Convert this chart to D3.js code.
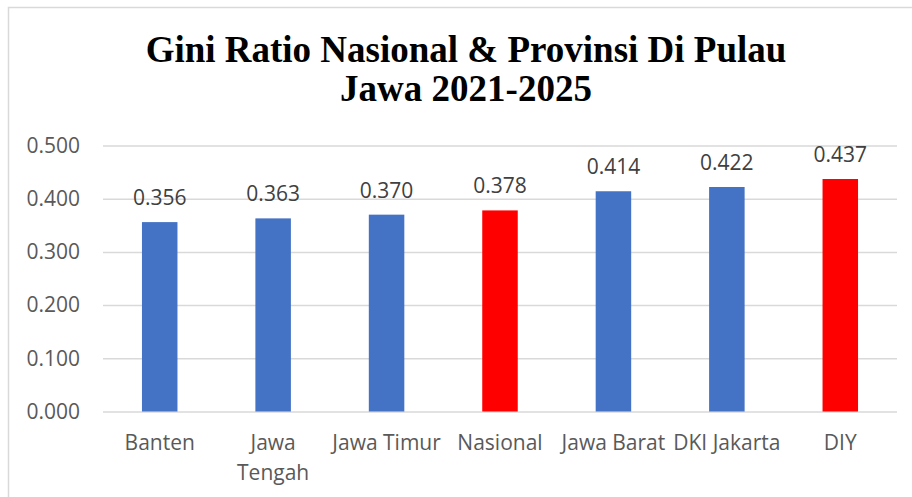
<!DOCTYPE html>
<html>
<head>
<meta charset="utf-8">
<script src="https://cdn.jsdelivr.net/npm/d3@7"></script>
<style>
  body { margin: 0; background: #fff; }
  svg { display: block; }
</style>
</head>
<body>
<div id="chart"></div>
<script>
// data
const categories = ["Banten", "Jawa Tengah", "Jawa Timur", "Nasional", "Jawa Barat", "DKI Jakarta", "DIY"];
const xLabels = [["Banten"], ["Jawa", "Tengah"], ["Jawa Timur"], ["Nasional"], ["Jawa Barat"], ["DKI Jakarta"], ["DIY"]];
const giniValues = [0.356, 0.363, 0.370, 0.378, 0.414, 0.422, 0.437];
const highlighted = ["Nasional", "DIY"];
const yTicks = [0, 0.1, 0.2, 0.3, 0.4, 0.5];
const titleLines = ["Gini Ratio Nasional & Provinsi Di Pulau", "Jawa 2021-2025"];

const w = 912;
const h = 497;
const plotLeft = 103, plotRight = 897, plotTop = 145.5, plotBottom = 411.5;
const textColor = '#595959';
const labelFont = "'Open Sans', 'Noto Sans', sans-serif";

const svg = d3.select('#chart')
              .append('svg')
              .attr('width', w)
              .attr('height', h);

// chart border
svg.append('rect')
   .attr('x', 8.5)
   .attr('y', 7.5)
   .attr('width', w + 20)
   .attr('height', h + 20)
   .attr('fill', '#fff')
   .attr('stroke', '#d9d9d9')
   .attr('stroke-width', 1.5);

const xScale = d3.scaleBand()
                 .domain(categories)
                 .range([plotLeft, plotRight])
                 .paddingInner(0.687)
                 .paddingOuter(0.3435);

const yScale = d3.scaleLinear()
                 .domain([0, 0.5])
                 .range([plotBottom, plotTop]);

// gridlines
const yAxis = d3.axisLeft(yScale)
                .tickValues(yTicks)
                .tickSize(-(plotRight - plotLeft))
                .tickPadding(23)
                .tickFormat(d3.format('.3f'));

const gy = svg.append('g')
   .attr('id', 'y-axis')
   .attr('transform', 'translate(' + plotLeft + ',0)')
   .call(yAxis);

gy.select('.domain').remove();
gy.selectAll('.tick line')
  .attr('stroke', '#d9d9d9')
  .attr('stroke-width', 1.5);
gy.selectAll('.tick text')
  .attr('fill', textColor)
  .attr('font-family', labelFont)
  .attr('font-size', 21);

// bars
svg.selectAll('rect.bar')
   .data(giniValues)
   .enter()
   .append('rect')
   .attr('class', 'bar')
   .attr('x', (d, i) => xScale(categories[i]))
   .attr('y', (d) => yScale(d))
   .attr('width', xScale.bandwidth())
   .attr('height', (d) => yScale(0) - yScale(d))
   .attr('fill', (d, i) => highlighted.includes(categories[i]) ? '#ff0000' : '#4472c4');

// value labels
svg.selectAll('text.value')
   .data(giniValues)
   .enter()
   .append('text')
   .attr('class', 'value')
   .attr('x', (d, i) => xScale(categories[i]) + xScale.bandwidth() / 2)
   .attr('y', (d) => yScale(d) - 17)
   .attr('text-anchor', 'middle')
   .attr('fill', '#404040')
   .attr('font-family', labelFont)
   .attr('font-size', 21)
   .text((d) => d3.format('.3f')(d));

// category labels
const xl = svg.selectAll('text.cat')
   .data(categories)
   .enter()
   .append('text')
   .attr('class', 'cat')
   .attr('x', (d) => xScale(d) + xScale.bandwidth() / 2)
   .attr('y', 450)
   .attr('text-anchor', 'middle')
   .attr('fill', textColor)
   .attr('font-family', labelFont)
   .attr('font-size', 21);

xl.each(function (d, i) {
  const t = d3.select(this);
  xLabels[i].forEach((line, j) => {
    t.append('tspan')
     .attr('x', xScale(d) + xScale.bandwidth() / 2)
     .attr('dy', j === 0 ? 0 : 30)
     .text(line);
  });
});

// title
svg.append('text')
   .attr('x', 466)
   .attr('y', 62)
   .attr('text-anchor', 'middle')
   .attr('font-family', "'Liberation Serif', 'Times New Roman', serif")
   .attr('font-weight', 'bold')
   .attr('font-size', 37)
   .attr('fill', '#000')
   .selectAll('tspan')
   .data(titleLines)
   .enter()
   .append('tspan')
   .attr('x', 466)
   .attr('dy', (d, i) => i === 0 ? 0 : 38.5)
   .text((d) => d);
</script>
</body>
</html>
